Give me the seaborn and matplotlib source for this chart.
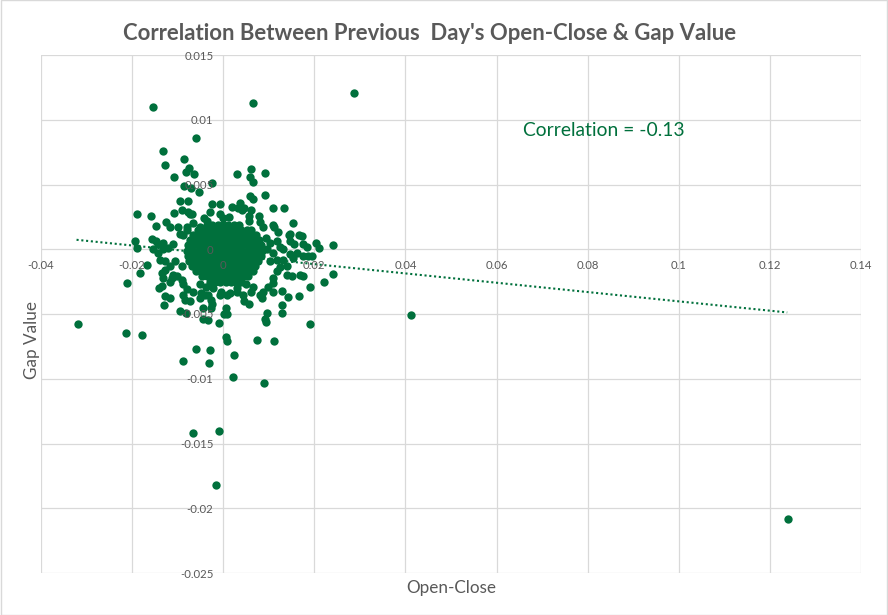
import matplotlib
matplotlib.use("Agg")
import matplotlib.pyplot as plt
import seaborn as sns
import pandas as pd
from matplotlib.patches import Rectangle

# Scattered points (outliers and outer cloud)
oc_outer = [
    -0.0154, 0.0066, 0.0286, -0.0059, -0.0132,
    -0.0086, -0.0128, -0.0075, -0.0082, -0.0064,
    -0.0108, 0.0061, 0.0092, 0.0031, 0.0059,
    0.0066, -0.0087, -0.0070, -0.0024, -0.0053,
    0.0092, 0.0059, 0.0065, -0.0095, -0.0078,
    -0.0024, -0.0007, 0.0110, 0.0134, 0.0020,
    0.0037, -0.0189, -0.0159, -0.0108, -0.0090,
    -0.0069, -0.0147, -0.0125, -0.0117, 0.0153,
    0.0121, 0.0147, 0.0241, -0.0193, -0.0189,
    -0.0319, -0.0212, -0.0182, -0.0168, -0.0213,
    -0.0178, 0.0240, 0.0222, 0.0191, 0.0191,
    0.0167, 0.0143, 0.0129, 0.0128, 0.0128,
    0.0097, 0.0092, 0.0093, -0.0130, -0.0128,
    -0.0117, -0.0140, -0.0134, -0.0024, -0.0027,
    0.0005, 0.0002, 0.0009, -0.0009, -0.0044,
    -0.0034, -0.0095, -0.0081, -0.0044, 0.0007,
    0.0009, 0.0046, 0.0057, 0.0075, 0.0112,
    -0.0060, -0.0029, 0.0024, -0.0088, -0.0032,
    0.0022, 0.0090, -0.0009, -0.0066, -0.0015,
    0.0413, 0.1239,
]
gap_outer = [
    0.0110, 0.0113, 0.0121, 0.0086, 0.0076,
    0.0070, 0.0065, 0.0063, 0.0060, 0.0058,
    0.0056, 0.0062, 0.0059, 0.0058, 0.0056,
    0.0052, 0.0049, 0.0047, 0.0051, 0.0044,
    0.0042, 0.0041, 0.0039, 0.0037, 0.0037,
    0.0035, 0.0035, 0.0032, 0.0032, 0.0033,
    0.0036, 0.0027, 0.0026, 0.0028, 0.0030,
    0.0027, 0.0018, 0.0021, 0.0017, 0.0020,
    0.0013, 0.0012, 0.0003, 0.0006, 0.0001,
    -0.0058, -0.0026, -0.0018, -0.0012, -0.0065,
    -0.0066, -0.0019, -0.0025, -0.0029, -0.0058,
    -0.0036, -0.0037, -0.0032, -0.0043, -0.0049,
    -0.0049, -0.0054, -0.0056, -0.0043, -0.0036,
    -0.0038, -0.0030, -0.0028, -0.0042, -0.0045,
    -0.0045, -0.0050, -0.0050, -0.0057, -0.0054,
    -0.0055, -0.0048, -0.0049, -0.0045, -0.0068,
    -0.0071, -0.0040, -0.0042, -0.0070, -0.0071,
    -0.0077, -0.0078, -0.0082, -0.0086, -0.0088,
    -0.0099, -0.0103, -0.0140, -0.0142, -0.0182,
    -0.0051, -0.0208,
]

# Ring of points around the dense centre
oc_ring = [
    0.0033, -0.0072, -0.0029, -0.0042, -0.0036,
    -0.0007, 0.0000, 0.0013, 0.0041, 0.0057,
    0.0078, 0.0080, 0.0056, -0.0100, -0.0080,
    -0.0095, -0.0088, -0.0067, -0.0051, 0.0087,
    0.0109, 0.0111, 0.0145, 0.0166, 0.0172,
    0.0094, 0.0117, 0.0103, 0.0147, 0.0155,
    0.0176, 0.0183, 0.0204, 0.0210, -0.0157,
    -0.0148, -0.0143, -0.0132, -0.0154, -0.0143,
    -0.0132, -0.0121, -0.0110, -0.0139, -0.0128,
    -0.0117, -0.0128, -0.0106, -0.0091, -0.0135,
    -0.0132, -0.0113, -0.0102, -0.0091, -0.0088,
    -0.0080, -0.0067, -0.0088, -0.0084, -0.0048,
    -0.0051, -0.0033, -0.0026, -0.0004, 0.0008,
    0.0015, 0.0030, 0.0044, 0.0062, 0.0081,
    0.0088, 0.0051, 0.0066, 0.0099, 0.0110,
    0.0139, 0.0150, 0.0117, 0.0125, 0.0169,
    0.0176, 0.0103, 0.0117, 0.0132, 0.0139,
    0.0161, 0.0154, 0.0176, 0.0187, 0.0194,
    0.0095, 0.0110, 0.0125, 0.0132, 0.0147,
    -0.0072, -0.0040, -0.0007, 0.0030, 0.0086,
    0.0110, 0.0110, -0.0051, -0.0037, -0.0022,
    -0.0117, -0.0110, 0.0046, 0.0060, -0.0077,
    -0.0080,
]
gap_ring = [
    0.0032, 0.0027, 0.0029, 0.0024, 0.0022,
    0.0027, 0.0024, 0.0025, 0.0030, 0.0026,
    0.0026, 0.0021, 0.0022, 0.0017, 0.0017,
    0.0012, 0.0011, 0.0020, 0.0017, 0.0017,
    0.0019, 0.0017, 0.0011, 0.0011, 0.0010,
    0.0009, 0.0006, 0.0005, 0.0006, 0.0004,
    0.0004, 0.0002, 0.0005, 0.0001, 0.0008,
    0.0006, 0.0004, 0.0005, 0.0000, -0.0003,
    0.0000, 0.0001, 0.0004, -0.0008, -0.0009,
    -0.0013, -0.0016, -0.0009, -0.0013, -0.0018,
    -0.0022, -0.0022, -0.0021, -0.0024, -0.0027,
    -0.0031, -0.0033, -0.0035, -0.0039, -0.0034,
    -0.0038, -0.0035, -0.0039, -0.0033, -0.0035,
    -0.0034, -0.0033, -0.0035, -0.0033, -0.0035,
    -0.0033, -0.0027, -0.0029, -0.0029, -0.0033,
    -0.0020, -0.0021, -0.0017, -0.0014, -0.0020,
    -0.0021, -0.0009, -0.0008, -0.0008, -0.0013,
    -0.0003, -0.0007, -0.0005, -0.0005, -0.0005,
    0.0000, -0.0003, 0.0002, 0.0000, -0.0004,
    -0.0040, -0.0035, -0.0035, -0.0030, -0.0038,
    -0.0026, -0.0022, -0.0027, -0.0029, -0.0030,
    -0.0025, -0.0020, 0.0032, 0.0030, 0.0029,
    0.0015,
]

# Dense centre, estimated row by row (gap value -> open-close values)
core_gap = [0.0019, 0.0015, 0.0011, 0.0007, 0.0003, -0.0001,
            -0.0005, -0.0009, -0.0013, -0.0017, -0.0021, -0.0025]
core_oc = [
    [-0.0036, -0.0024, -0.0012, -0.0001, 0.0011, 0.0023, 0.0035],
    [-0.0055, -0.0044, -0.0032, -0.0020, -0.0008, 0.0004, 0.0016, 0.0028,
     0.0040, 0.0052, 0.0062],
    [-0.0066, -0.0055, -0.0043, -0.0031, -0.0019, -0.0007, 0.0005, 0.0017,
     0.0029, 0.0041, 0.0053, 0.0064, 0.0073],
    [-0.0073, -0.0062, -0.0050, -0.0038, -0.0026, -0.0014, -0.0002, 0.0010,
     0.0022, 0.0034, 0.0046, 0.0058, 0.0069, 0.0079],
    [-0.0077, -0.0066, -0.0054, -0.0042, -0.0030, -0.0018, -0.0006, 0.0006,
     0.0018, 0.0030, 0.0042, 0.0054, 0.0066, 0.0076, 0.0084],
    [-0.0079, -0.0068, -0.0056, -0.0044, -0.0032, -0.0020, -0.0008, 0.0004,
     0.0016, 0.0028, 0.0040, 0.0052, 0.0064, 0.0075, 0.0085],
    [-0.0078, -0.0067, -0.0055, -0.0043, -0.0031, -0.0019, -0.0007, 0.0005,
     0.0017, 0.0029, 0.0041, 0.0053, 0.0065, 0.0075, 0.0083],
    [-0.0075, -0.0064, -0.0052, -0.0040, -0.0028, -0.0016, -0.0004, 0.0008,
     0.0020, 0.0032, 0.0044, 0.0056, 0.0067, 0.0077],
    [-0.0069, -0.0058, -0.0046, -0.0034, -0.0022, -0.0010, 0.0002, 0.0014,
     0.0026, 0.0038, 0.0050, 0.0061, 0.0070],
    [-0.0060, -0.0049, -0.0037, -0.0025, -0.0013, -0.0001, 0.0011, 0.0023,
     0.0035, 0.0047, 0.0057, 0.0065],
    [-0.0047, -0.0036, -0.0024, -0.0012, 0.0000, 0.0012, 0.0024, 0.0036,
     0.0046, 0.0054],
    [-0.0030, -0.0019, -0.0007, 0.0005, 0.0017, 0.0029, 0.0038],
]

# Linear trendline end points as drawn
trend_x = [-0.0322, 0.1238]
trend_y = [0.00073, -0.00488]

x_ticks = [-0.04, -0.02, 0, 0.02, 0.04, 0.06, 0.08, 0.1, 0.12, 0.14]
x_labels = ["-0.04", "-0.02", "0", "0.02", "0.04", "0.06", "0.08", "0.1", "0.12", "0.14"]
y_ticks = [0.015, 0.01, 0.005, 0, -0.005, -0.01, -0.015, -0.02, -0.025]
y_labels = ["0.015", "0.01", "0.005", "0", "-0.005", "-0.01", "-0.015", "-0.02", "-0.025"]

GREEN = "#00703C"
GREY_TXT = "#595959"
GRID = "#D9D9D9"

core_x = [v for row in core_oc for v in row]
core_y = [g for g, row in zip(core_gap, core_oc) for _ in row]
df = pd.DataFrame({
    "Open-Close": oc_outer + oc_ring + core_x,
    "Gap Value": gap_outer + gap_ring + core_y,
})

sns.set_style("white")
plt.rcParams["font.family"] = ["Lato", "DejaVu Sans"]

fig = plt.figure(figsize=(8.88, 6.15), dpi=100)
ax = fig.add_axes([41 / 888, 42 / 615, 820 / 888, 518 / 615])

# gridlines drawn by hand so they sit under the points
for xv in x_ticks:
    ax.axvline(xv, color=GRID, lw=0.9, zorder=0.5)
for yv in y_ticks:
    ax.axhline(yv, color=GRID, lw=0.9, zorder=0.5)

sns.scatterplot(data=df, x="Open-Close", y="Gap Value", ax=ax, color=GREEN,
                s=36, linewidth=0, zorder=2)
ax.plot(trend_x, trend_y, color=GREEN, lw=1.5, linestyle=(0, (1, 1.3)), zorder=2.2)

ax.set_xlim(-0.04, 0.14)
ax.set_ylim(-0.025, 0.015)
ax.set_xticks(x_ticks)
ax.set_xticklabels(x_labels)
ax.set_yticks(y_ticks)
ax.set_yticklabels(y_labels)
ax.set_xlabel("")
ax.set_ylabel("")

# axes cross at zero, like the spreadsheet chart
ax.spines["left"].set_position(("data", 0))
ax.spines["bottom"].set_position(("data", 0))
for sp in ax.spines.values():
    sp.set_visible(False)
ax.tick_params(axis="both", length=0, labelsize=8.2, labelcolor=GREY_TXT)
ax.tick_params(axis="x", pad=8)
ax.tick_params(axis="y", pad=7)
ax.set_axisbelow(False)

ax.text(0.0657, 0.00915, "Correlation = -0.13", color=GREEN, fontsize=13.9,
        ha="left", va="center", zorder=3)

fig.text(430 / 888, 1 - 34 / 615, "Correlation Between Previous  Day's Open-Close & Gap Value",
         ha="center", va="center", fontsize=15.9, fontweight="bold", color=GREY_TXT)
fig.text(451 / 888, 1 - 588 / 615, "Open-Close", ha="center", va="center",
         fontsize=12.3, color=GREY_TXT)
fig.text(32 / 888, 1 - 340 / 615, "Gap Value", ha="center", va="center",
         rotation=90, fontsize=12.3, color=GREY_TXT)

fig.patches.append(Rectangle((0.0006, 0.0008), 0.9988, 0.9984, transform=fig.transFigure,
                             fill=False, edgecolor=GRID, lw=1))

fig.savefig("out.png", dpi=100)
